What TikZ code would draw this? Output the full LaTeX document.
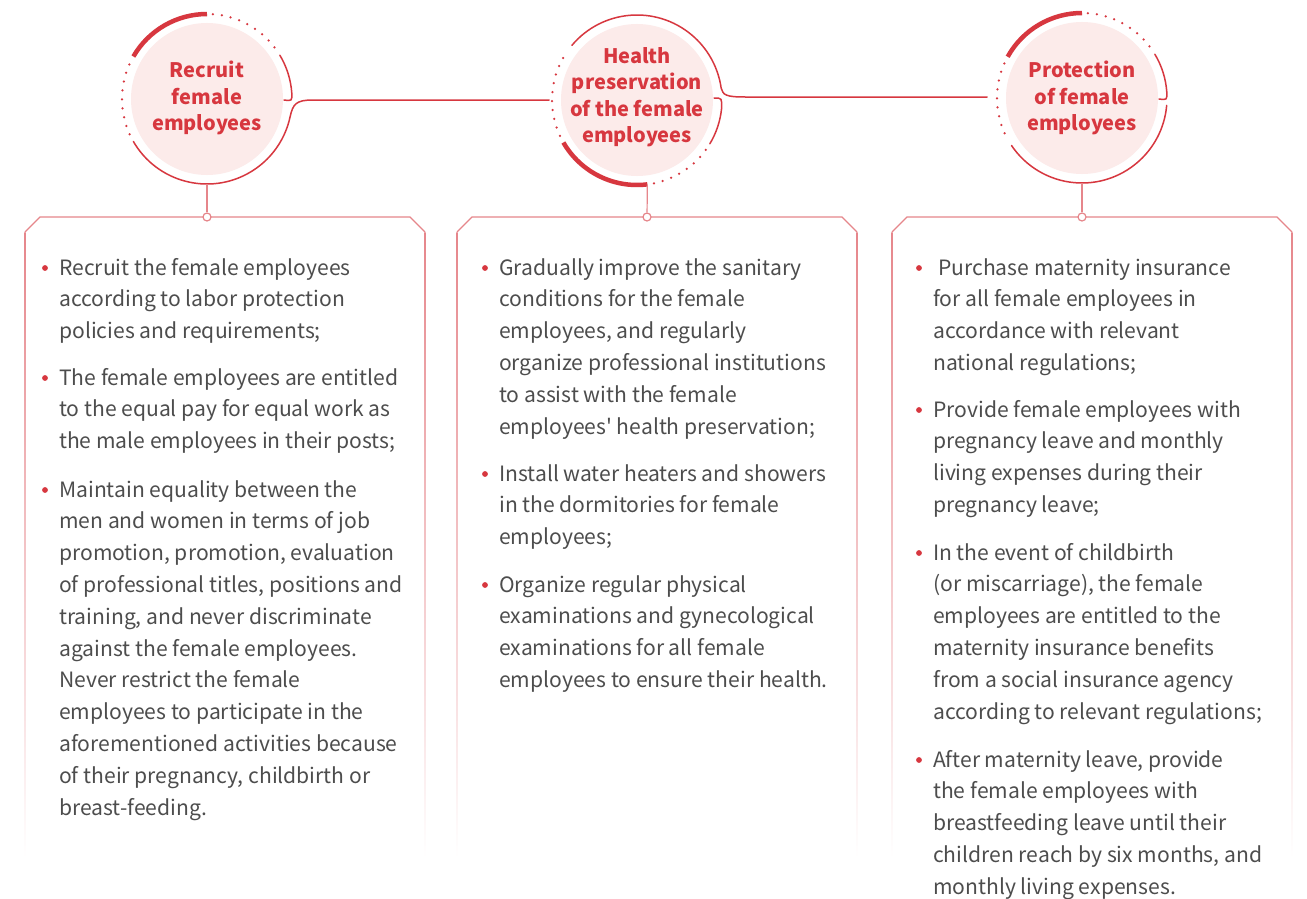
\documentclass[tikz,border=0pt]{standalone}
\usepackage{fontspec}
\setmainfont{Noto Sans CJK SC}
\newfontfamily\aposfont{Noto Sans CJK SC}[Ligatures=TeXOff]
\usetikzlibrary{calc}
\definecolor{ringred}{HTML}{D7373F}
\definecolor{boxred}{HTML}{E6868B}
\definecolor{pinkfill}{HTML}{FCEBEA}
\definecolor{txtgray}{HTML}{4D4D4D}
\newcommand{\drawbox}[2]{%
  \draw[boxline] (#1,232) -- (#1+15,217) -- (#2-15,217) -- (#2,232);
  \shade[top color=boxred, bottom color=white] (#1-0.6,232) rectangle (#1+0.6,858);
  \shade[top color=boxred, bottom color=white] (#2-0.6,232) rectangle (#2+0.6,858);}
\newcommand{\itm}[4]{%
  \node[bul] (#3b) at (#1-14,#2-7) {};
  \node[item] (#3) at (#1,#2) {\parbox[t]{390pt}{#4}};}
\begin{document}
\begin{tikzpicture}[x=1pt,y=-1pt,
  thinring/.style={draw=ringred, line width=1.5pt, line cap=round},
  thickring/.style={draw=ringred, line width=4.5pt},
  dotring/.style={draw=ringred, line width=2.5pt, line cap=round, dash pattern=on 0pt off 9pt},
  boxline/.style={draw=boxred, line width=1.2pt},
  knob/.style={circle, draw=boxred, fill=white, line width=1.2pt, minimum size=8pt, inner sep=0pt},
  title/.style={text=ringred, font=\fontsize{20}{26.5}\selectfont\bfseries, align=center, inner sep=0pt},
  item/.style={anchor=base west, inner sep=0pt, text=txtgray, font=\fontsize{21.1}{31.8}\selectfont},
  bul/.style={circle, fill=ringred, minimum size=5.8pt, inner sep=0pt}]
\useasboundingbox (0,0) rectangle (1307,899);
\fill[white] (0,0) rectangle (1307,899);

% boxes
\drawbox{25}{425}
\drawbox{457}{857}
\drawbox{892}{1292}

% circle centres
\coordinate (c1) at (207,99);
\coordinate (c2) at (637,100);
\coordinate (c3) at (1082,98);

% circle 1
\fill[pinkfill] (c1) circle[radius=76];
\draw[thickring] ($(c1)+(-90:85)$) arc[start angle=-90, end angle=-150, radius=85];
\draw[dotring] ($(c1)+(-86:85)$) arc[start angle=-86, end angle=-34, radius=85];
\draw[thinring] ($(c1)+(-31:85)$) arc[start angle=-31, end angle=-4, radius=85]
   .. controls ($(c1)+(85,2)$) .. ($(c1)+(77,1)$);
\draw[dotring] ($(c1)+(-156:85)$) arc[start angle=-156, end angle=-206, radius=85];
\coordinate (j12) at ($(c2)+(-88,0)$);
\draw[thinring] ($(c1)+(150:85)$) arc[start angle=150, end angle=12, radius=85]
   .. controls ($(c1)+(86,5)$) and ($(c1)+(89,1)$) .. ($(c1)+(106,1)$) -- (j12);

% circle 2
\fill[pinkfill] (c2) circle[radius=76];
\coordinate (j23) at ($(c3)+(-95,-1)$);
\draw[thinring] ($(c2)+(-140:85)$) arc[start angle=-140, end angle=-8, radius=85]
   .. controls ($(c2)+(86,-5)$) and ($(c2)+(89,-3)$) .. ($(c2)+(108,-3)$) -- (j23);
\draw[thinring] ($(c2)+(77,-2)$) .. controls ($(c2)+(85,-2)$) .. ($(c2)+(6:85)$)
   arc[start angle=6, end angle=31, radius=85];
\draw[dotring] ($(c2)+(36:85)$) arc[start angle=36, end angle=80, radius=85];
\draw[thickring] ($(c2)+(83:85)$) arc[start angle=83, end angle=150, radius=85];
\draw[dotring] ($(c2)+(155:85)$) arc[start angle=155, end angle=214, radius=85];

% circle 3
\fill[pinkfill] (c3) circle[radius=76];
\draw[thickring] ($(c3)+(-90:85)$) arc[start angle=-90, end angle=-151, radius=85];
\draw[dotring] ($(c3)+(-86:85)$) arc[start angle=-86, end angle=-34, radius=85];
\draw[thinring] ($(c3)+(-31:85)$) arc[start angle=-31, end angle=-4, radius=85]
   .. controls ($(c3)+(85,2)$) .. ($(c3)+(77,1)$);
\draw[thinring] ($(c3)+(5:85)$) arc[start angle=5, end angle=146, radius=85];
\draw[dotring] ($(c3)+(-156:85)$) arc[start angle=-156, end angle=-208, radius=85];

% titles
\node[title] (t1) at (207,98) {Recruit\\female\\employees};
\node[title] (t2) at (637,97) {Health\\preservation\\of the female\\employees};
\node[title] (t3) at (1082,98) {Protection\\of female\\employees};

% vertical connectors and knobs
\node[knob] (k1) at (207,217) {};
\node[knob] (k2) at (647,217) {};
\node[knob] (k3) at (1082,217) {};
\draw[boxline] ($(c1)+(90:85)$) -- (k1);
\draw[boxline] ($(c2)+(83:85)$) -- (k2);
\draw[boxline] ($(c3)+(90:85)$) -- (k3);

% box 1 items
\itm{59}{275}{i11}{Recruit the female employees\\according to labor protection\\policies and requirements;}
\itm{59}{385}{i12}{The female employees are entitled\\to the equal pay for equal work as\\the male employees in their posts;}
\itm{59}{497}{i13}{Maintain equality between the\\men and women in terms of job\\promotion, promotion, evaluation\\of professional titles, positions and\\training, and never discriminate\\against the female employees.\\Never restrict the female\\employees to participate in the\\aforementioned activities because\\of their pregnancy, childbirth or\\breast-feeding.}

% box 2 items
\itm{499}{275}{i21}{Gradually improve the sanitary\\conditions for the female\\employees, and regularly\\organize professional institutions\\to assist with the female\\employees{\aposfont'} health preservation;}
\itm{499}{481}{i22}{Install water heaters and showers\\in the dormitories for female\\employees;}
\itm{499}{592}{i23}{Organize regular physical\\examinations and gynecological\\examinations for all female\\employees to ensure their health.}

% box 3 items
\itm{933}{275}{i31}{\hspace*{5pt}Purchase maternity insurance\\for all female employees in\\accordance with relevant\\national regulations;}
\itm{933}{417}{i32}{Provide female employees with\\pregnancy leave and monthly\\living expenses during their\\pregnancy leave;}
\itm{933}{560}{i33}{In the event of childbirth\\(or miscarriage), the female\\employees are entitled to the\\maternity insurance benefits\\from a social insurance agency\\according to relevant regulations;}
\itm{933}{767}{i34}{After maternity leave, provide\\the female employees with\\breastfeeding leave until their\\children reach by six months, and\\monthly living expenses.}
\end{tikzpicture}
\end{document}
